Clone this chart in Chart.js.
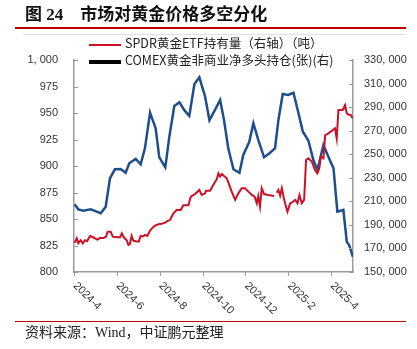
<!DOCTYPE html>
<html>
<head>
<meta charset="utf-8">
<script src="https://cdn.jsdelivr.net/npm/chart.js@4.4.1/dist/chart.umd.min.js"></script>
<style>
  html, body { margin: 0; padding: 0; background: #fff; }
  #wrap { position: relative; width: 417px; height: 349px; overflow: hidden; }
  #wrap canvas { position: absolute; left: 0; top: 0; }
  .title { position: absolute; left: 25px; top: 5px; line-height: 20px; font-size: 17px; font-weight: bold;
           font-family: "Liberation Serif", "Noto Sans CJK SC"; color: #111; white-space: nowrap; }
  .rule-red { position: absolute; left: 15px; width: 391px; background: #c00000; }
  .rule-grey { position: absolute; left: 23px; width: 383px; height: 1px; top: 34px; background: #e0e0e0; }
  .leg { position: absolute; left: 89px; white-space: nowrap; font-size: 12.5px; line-height: 16px;
         font-family: "Noto Sans CJK SC"; color: #222; z-index: 2; }
  .leg i { display: inline-block; width: 32px; vertical-align: middle; margin-right: 4px; }
  .source { position: absolute; left: 25px; top: 324px; line-height: 18px; font-size: 14px;
            font-family: "Liberation Serif", "Noto Sans CJK SC"; color: #222; white-space: nowrap; }
</style>
</head>
<body>
<div id="wrap">
  <canvas id="graficoOuro" width="417" height="349"></canvas>
  <div class="title">图 24　市场对黄金价格多空分化</div>
  <div class="rule-red" style="top:27px;height:2px"></div>
  <div class="rule-grey"></div>
  <div class="leg" style="top:35px"><i style="height:2px;background:#cc1126"></i>SPDR黄金ETF持有量（右轴）（吨）</div>
  <div class="leg" style="top:52px"><i style="height:4px;background:#000"></i>COMEX黄金非商业净多头持仓(张)(右)</div>
  <div class="rule-red" style="top:321px;height:1px"></div>
  <div class="source">资料来源：Wind，中证鹏元整理</div>
</div>
<script>
// eixo x em meses desde 2024-4 (0 = 2024-4, 2 = 2024-6, ...)
const xTickLabels = ['2024-4', '2024-6', '2024-8', '2024-10', '2024-12', '2025-2', '2025-4'];

// COMEX 非商业净多头持仓（张），semanal
const comexMonths = [0.03, 0.20, 0.43, 0.78, 1.06, 1.25, 1.48, 1.68, 1.91, 2.18,
    2.41, 2.58, 2.88, 3.11, 3.31, 3.55, 3.81, 3.98, 4.26, 4.45,
    4.68, 4.92, 5.14, 5.38, 5.62, 5.85, 6.12, 6.32, 6.58, 6.82,
    7.00, 7.20, 7.44, 7.72, 7.90, 8.18, 8.37, 8.60, 8.87, 9.12,
    9.38, 9.54, 9.74, 10.00, 10.24, 10.47, 10.68, 10.94, 11.17, 11.36,
    11.64, 11.87, 12.11, 12.29, 12.57, 12.73, 12.84, 13.01];
const comexNetLong = [207500, 203200, 202100, 203200, 201200, 199900, 205500, 229600, 237200, 237500,
    234300, 242300, 246000, 241500, 255000, 285300, 272000, 247400, 238900, 264900,
    291000, 294100, 287600, 282500, 309600, 315300, 298800, 278800, 287600, 296000,
    279100, 255000, 237200, 234300, 249400, 260600, 276300, 262100, 247400, 250800,
    255000, 279100, 301100, 300300, 302200, 285300, 269100, 261500, 245100, 236600,
    257800, 247900, 238100, 201200, 202700, 175700, 172900, 163000];

// SPDR 持有量（吨）, null = dia sem dado
const spdrMonths = [0.03, 0.13, 0.20, 0.31, 0.41, 0.51, 0.61, 0.75, 0.87, 0.98,
    1.09, 1.21, 1.37, 1.49, 1.57, 1.71, 1.81, 2.00, 2.15, 2.23,
    2.33, 2.46, 2.54, 2.61, 2.69, 2.77, 2.89, 3.02, 3.11, 3.22,
    3.31, 3.42, 3.55, 3.67, 3.78, 3.94, 4.09, 4.25, 4.35, 4.48,
    4.64, 4.79, 4.98, 5.10, 5.34, 5.45, 5.65, 5.85, 5.96, 6.12,
    6.16, 6.35, 6.50, 6.66, 6.74, 6.82, 6.90, 7.00, 7.13, 7.25,
    7.36, 7.52, 7.67, 7.83, 7.98, 8.14, 8.30, 8.43, 8.53, 8.60,
    8.68, 8.76, 8.87, 9.07, 9.34, 9.40, 9.46, 9.54, 9.62, 9.70,
    9.78, 9.85, 9.96, 10.09, 10.20, 10.32, 10.43, 10.52, 10.63, 10.74,
    10.83, 10.94, 11.10, 11.25, 11.36, 11.45, 11.52, 11.64, 11.72, 11.87,
    12.08, 12.18, 12.26, 12.34, 12.54, 12.65, 12.73, 12.81, 12.92, 13.00];
const spdrTonnes = [827.6, 831.8, 827.0, 830.0, 827.0, 830.0, 829.0, 834.0, 833.0, 831.8,
    830.5, 832.0, 832.0, 833.3, 838.0, 838.0, 833.3, 832.7, 832.7, 836.5,
    832.5, 830.0, 825.5, 826.5, 834.0, 829.5, 829.0, 828.6, 834.0, 833.5,
    835.0, 834.0, 839.0, 841.8, 843.7, 845.0, 845.5, 846.5, 848.0, 849.0,
    855.3, 858.5, 858.5, 863.0, 863.0, 871.0, 873.6, 877.4, 872.7, 874.2,
    876.7, 876.7, 882.0, 887.4, 893.0, 890.0, 892.5, 890.6, 888.4, 882.0,
    875.8, 868.0, 874.2, 879.0, 879.0, 875.8, 872.7, 871.0, 864.8, 871.5,
    861.6, 879.0, 873.5, 872.6, 871.7, null, 874.8, 877.4, 872.0, 879.0,
    871.0, 864.8, 857.0, 864.8, 866.0, 868.0, 864.8, 872.6, 864.8, 868.0,
    905.7, 907.3, 904.0, 896.0, 893.0, 898.0, 908.8, 907.3, 929.0, 930.8,
    934.0, 935.5, 926.0, 952.8, 952.8, 957.5, 949.7, 948.5, 948.0, 945.0];

const pares = (xs, ys) => xs.map((x, i) => ({ x: x, y: ys[i] }));
const milhar = v => v.toLocaleString('en-US').replace(',', ', ');

// marcas dos eixos (para dentro nos eixos y, para fora no x) e rótulos do x a 45°
const marcasEixos = {
    id: 'marcasEixos',
    afterDraw(chart) {
        const { ctx, chartArea, scales } = chart;
        ctx.save();
        ctx.strokeStyle = '#9a9a9a';
        ctx.lineWidth = 1;
        ctx.beginPath();
        scales.y.ticks.forEach(t => {
            const py = Math.round(scales.y.getPixelForValue(t.value)) + 0.5;
            ctx.moveTo(chartArea.left, py); ctx.lineTo(chartArea.left + 4, py);
        });
        scales.y1.ticks.forEach(t => {
            const py = Math.round(scales.y1.getPixelForValue(t.value)) + 0.5;
            ctx.moveTo(chartArea.right, py); ctx.lineTo(chartArea.right - 4, py);
        });
        xTickLabels.forEach((lbl, i) => {
            const px = Math.round(scales.x.getPixelForValue(i * 2)) + 0.5;
            ctx.moveTo(px, chartArea.bottom); ctx.lineTo(px, chartArea.bottom + 4);
        });
        ctx.stroke();

        ctx.fillStyle = '#333';
        ctx.font = '11px "Liberation Sans"';
        ctx.textAlign = 'left';
        ctx.textBaseline = 'middle';
        xTickLabels.forEach((lbl, i) => {
            const px = scales.x.getPixelForValue(i * 2);
            ctx.save();
            ctx.translate(px + 1, chartArea.bottom + 12);
            ctx.rotate(Math.PI / 4);
            ctx.fillText(lbl, 0, 0);
            ctx.restore();
        });
        ctx.restore();
    }
};

Chart.defaults.font.family = '"Liberation Sans"';
Chart.defaults.font.size = 11;
Chart.defaults.color = '#333';

new Chart(document.getElementById('graficoOuro'), {
    type: 'line',
    data: {
        datasets: [{
            label: 'SPDR黄金ETF持有量（右轴）（吨）',
            data: pares(spdrMonths, spdrTonnes),
            yAxisID: 'y',
            borderColor: '#cc1126',
            borderWidth: 2,
            pointRadius: 0,
            tension: 0,
            spanGaps: false
        }, {
            label: 'COMEX黄金非商业净多头持仓(张)(右)',
            data: pares(comexMonths, comexNetLong),
            yAxisID: 'y1',
            borderColor: '#1f4e8c',
            borderWidth: 2.5,
            pointRadius: 0,
            tension: 0
        }]
    },
    options: {
        responsive: false,
        animation: false,
        layout: { padding: { top: 60, left: 0, right: 0, bottom: 0 } },
        plugins: { legend: { display: false }, tooltip: { enabled: false } },
        scales: {
            x: {
                type: 'linear',
                min: 0,
                max: 13.02,
                ticks: { display: false },
                grid: { display: false, drawTicks: false },
                border: { display: true, color: '#9a9a9a', width: 1.5 },
                afterFit: s => { s.height = 77; }
            },
            y: {
                position: 'left',
                min: 800,
                max: 1000,
                ticks: { stepSize: 25, padding: 16, callback: milhar },
                grid: { display: false, drawTicks: false },
                border: { display: true, color: '#9a9a9a', width: 1.5 },
                afterFit: s => { s.width = 74; }
            },
            y1: {
                position: 'right',
                min: 150000,
                max: 330000,
                ticks: { stepSize: 20000, padding: 11, callback: milhar },
                grid: { display: false, drawTicks: false },
                border: { display: true, color: '#9a9a9a', width: 1.5 },
                afterFit: s => { s.width = 64; }
            }
        }
    },
    plugins: [marcasEixos]
});
</script>
</body>
</html>
